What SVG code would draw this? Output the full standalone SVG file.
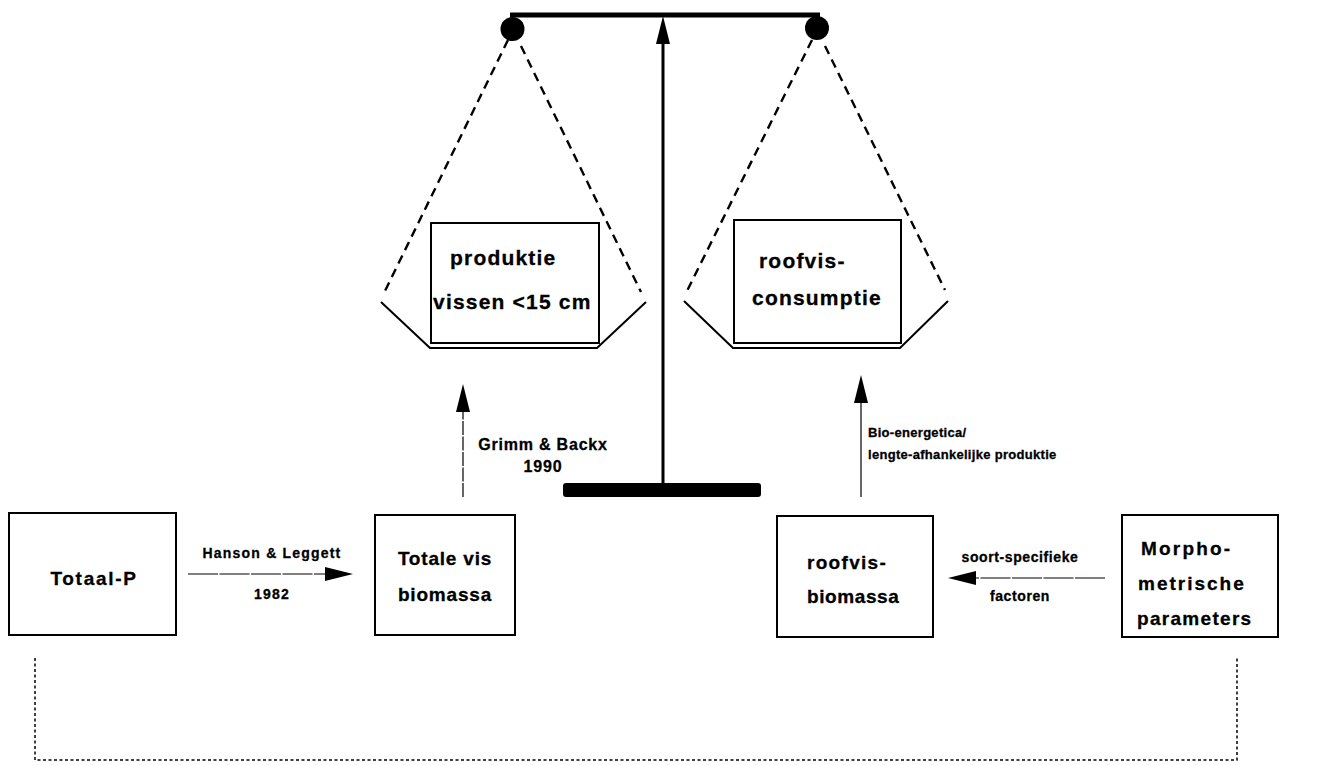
<svg xmlns="http://www.w3.org/2000/svg" width="1325" height="765" viewBox="0 0 1325 765">
  <style>
    .box { fill: #fff; stroke: #000; stroke-width: 2; }
    .lbl { font-family: "Liberation Sans", Arial, sans-serif; font-weight: bold; fill: #000; stroke: #000; stroke-width: 0.3; }
    .big { font-size: 21px; letter-spacing: 1.2px; }
    .mid { font-size: 19px; letter-spacing: 1.3px; }
    .sm { font-size: 16px; letter-spacing: 0.8px; }
    .xs { font-size: 14px; letter-spacing: 0.6px; }
    .tiny { font-size: 13px; letter-spacing: 0.3px; }
    .rope { fill: none; stroke: #000; stroke-width: 2.4; stroke-dasharray: 9 6; }
    .pan { fill: none; stroke: #000; stroke-width: 2; stroke-linejoin: miter; }
    .thin { fill: none; stroke: #000; stroke-width: 1.2; }
    .dots { fill: none; stroke: #000; stroke-width: 1.5; stroke-dasharray: 3 2.5; }
  </style>
  <defs>
    <marker id="head" markerUnits="userSpaceOnUse" markerWidth="28" markerHeight="14" refX="0" refY="7" orient="auto">
      <path d="M0,0 L28,7 L0,14 z" fill="#000"/>
    </marker>
  </defs>

  <!-- balance: beam, pivots, pole and foot -->
  <g id="balance">
    <line x1="510" y1="15" x2="820" y2="15" stroke="#000" stroke-width="5"/>
    <circle cx="512.5" cy="29" r="12" fill="#000"/>
    <circle cx="817" cy="28" r="12" fill="#000"/>
    <line x1="663" y1="483" x2="663" y2="44" stroke="#000" stroke-width="3" marker-end="url(#head)"/>
    <rect x="563" y="483" width="198" height="14" rx="3" fill="#000"/>
  </g>

  <!-- left pan -->
  <g id="pan-left">
    <line class="rope" x1="508" y1="40" x2="383" y2="295"/>
    <line class="rope" x1="521" y1="46" x2="641" y2="292"/>
    <polyline class="pan" points="381,302 430,348 597,348 646,302"/>
    <rect class="box" x="431" y="223" width="168" height="120"/>
    <text class="lbl big" x="450" y="265">produktie</text>
    <text class="lbl big" x="433" y="309">vissen &lt;15 cm</text>
  </g>

  <!-- right pan -->
  <g id="pan-right">
    <line class="rope" x1="812" y1="40" x2="686" y2="293"/>
    <line class="rope" x1="825" y1="46" x2="945" y2="290"/>
    <polyline class="pan" points="684,301 733,348 900,348 948,301"/>
    <rect class="box" x="734" y="220" width="167" height="123"/>
    <text class="lbl big" x="759" y="268">roofvis-</text>
    <text class="lbl big" x="752" y="305">consumptie</text>
  </g>

  <!-- bottom row -->
  <g id="totaal-p">
    <rect class="box" x="9" y="513" width="167" height="122"/>
    <text class="lbl mid" x="94" y="585" text-anchor="middle" style="letter-spacing:1.7px">Totaal-P</text>
  </g>

  <g id="totale-vis">
    <rect class="box" x="375" y="515" width="140" height="120"/>
    <text class="lbl mid" x="445" y="565" text-anchor="middle" style="letter-spacing:0.8px">Totale vis</text>
    <text class="lbl mid" x="445" y="601" text-anchor="middle" style="letter-spacing:0.8px">biomassa</text>
  </g>

  <g id="roofvis-biomassa">
    <rect class="box" x="777" y="516" width="156" height="121"/>
    <text class="lbl mid" x="807" y="569">roofvis-</text>
    <text class="lbl mid" x="807" y="603" style="letter-spacing:0.6px">biomassa</text>
  </g>

  <g id="morpho">
    <rect class="box" x="1122" y="515" width="156" height="122"/>
    <text class="lbl mid" x="1141" y="555" style="letter-spacing:2.2px">Morpho-</text>
    <text class="lbl mid" x="1138" y="590" style="letter-spacing:2px">metrische</text>
    <text class="lbl mid" x="1137" y="625">parameters</text>
  </g>

  <!-- connectors -->
  <g id="connectors">
    <line class="thin" x1="188" y1="574" x2="325" y2="574" stroke-dasharray="30 1.5" marker-end="url(#head)"/>
    <line class="thin" x1="1105" y1="578" x2="976" y2="578" stroke-dasharray="30 1.5" marker-end="url(#head)"/>
    <line class="thin" x1="463" y1="497" x2="463" y2="412" stroke-dasharray="14 1.5" marker-end="url(#head)"/>
    <line class="thin" x1="861" y1="497" x2="861" y2="403" marker-end="url(#head)"/>
    <polyline class="dots" points="35,658 35,760 1237,760 1237,658"/>

    <text class="lbl xs" x="272" y="558" text-anchor="middle" style="letter-spacing:1.2px">Hanson &amp; Leggett</text>
    <text class="lbl xs" x="272" y="599" text-anchor="middle" style="letter-spacing:1.2px">1982</text>
    <text class="lbl xs" x="1020" y="562" text-anchor="middle">soort-specifieke</text>
    <text class="lbl xs" x="1020" y="601" text-anchor="middle">factoren</text>
    <text class="lbl sm" x="543" y="450" text-anchor="middle">Grimm &amp; Backx</text>
    <text class="lbl sm" x="543" y="472" text-anchor="middle">1990</text>
    <text class="lbl tiny" x="868" y="437">Bio-energetica/</text>
    <text class="lbl tiny" x="868" y="459">lengte-afhankelijke produktie</text>
  </g>
</svg>
